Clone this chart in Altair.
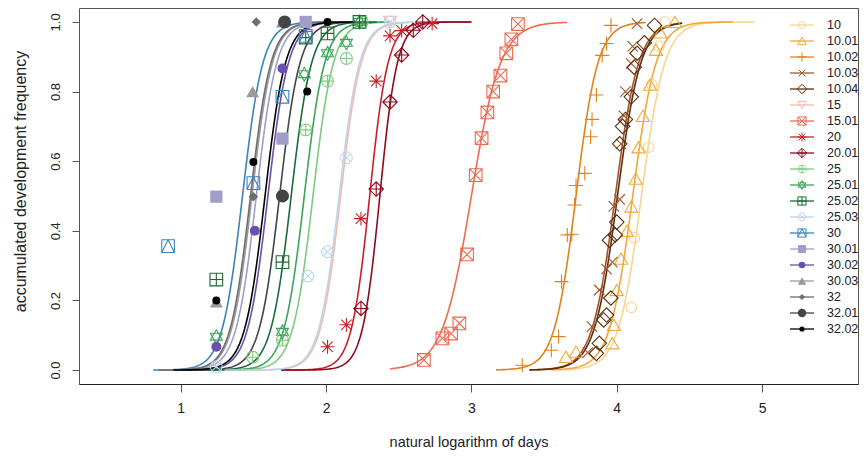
import altair as alt
import numpy as np
import pandas as pd

series = ["10", "10.01", "10.02", "10.03", "10.04", "15", "15.01", "20", "20.01",
          "25", "25.01", "25.02", "25.03", "30", "30.01", "30.02", "30.03",
          "32", "32.01", "32.02"]

# observed points (x = natural log of days, y = accumulated frequency)
x_10 = [4.10, 4.12, 4.22, 4.24, 4.29, 4.33]
y_10 = [0.18, 0.38, 0.64, 0.82, 0.93, 1.00]
x_10_01 = [3.65, 3.72, 3.97, 3.98, 4.00, 4.03, 4.07, 4.10, 4.13, 4.15, 4.18, 4.23, 4.27, 4.30, 4.40]
y_10_01 = [0.038, 0.053, 0.077, 0.13, 0.23, 0.32, 0.40, 0.47, 0.55, 0.64, 0.73, 0.82, 0.92, 0.97, 1.00]
x_10_02 = [3.35, 3.55, 3.60, 3.62, 3.66, 3.69, 3.71, 3.72, 3.78, 3.82, 3.83, 3.86, 3.90, 3.93, 3.96]
y_10_02 = [0.014, 0.057, 0.096, 0.254, 0.388, 0.39, 0.474, 0.53, 0.565, 0.67, 0.72, 0.79, 0.904, 0.938, 0.99]
x_10_03 = [3.80, 3.83, 3.88, 3.93, 3.97, 3.98, 4.02, 4.03, 4.05, 4.06, 4.10, 4.11, 4.14]
y_10_03 = [0.05, 0.125, 0.23, 0.29, 0.31, 0.47, 0.49, 0.65, 0.73, 0.80, 0.88, 0.93, 0.995]
x_10_04 = [3.86, 3.88, 3.91, 3.93, 3.96, 3.95, 3.99, 4.00, 4.02, 4.04, 4.06, 4.10, 4.12, 4.14, 4.19, 4.26]
y_10_04 = [0.048, 0.077, 0.144, 0.158, 0.207, 0.373, 0.388, 0.425, 0.65, 0.70, 0.72, 0.785, 0.87, 0.91, 0.94, 0.99]
x_15 = [2.44]
y_15 = [1.00]
x_15_01 = [2.673, 2.80, 2.86, 2.917, 2.97, 3.03, 3.07, 3.11, 3.15, 3.20, 3.24, 3.275, 3.32]
y_15_01 = [0.029, 0.091, 0.105, 0.134, 0.332, 0.56, 0.666, 0.74, 0.80, 0.846, 0.91, 0.95, 0.994]
x_20 = [2.01, 2.14, 2.24, 2.345, 2.44, 2.52, 2.73]
y_20 = [0.067, 0.13, 0.435, 0.83, 0.96, 0.975, 0.995]
x_20_01 = [2.24, 2.345, 2.44, 2.52, 2.60, 2.665]
y_20_01 = [0.177, 0.52, 0.77, 0.905, 0.976, 1.00]
x_25 = [1.495, 1.70, 1.86, 2.01, 2.14, 2.25]
y_25 = [0.037, 0.086, 0.69, 0.83, 0.895, 1.00]
x_25_01 = [1.245, 1.70, 1.85, 2.01, 2.14, 2.23]
y_25_01 = [0.096, 0.11, 0.85, 0.91, 0.94, 1.00]
x_25_02 = [1.245, 1.70, 1.86, 2.01, 2.23]
y_25_02 = [0.26, 0.31, 0.955, 0.967, 1.00]
x_25_03 = [1.245, 1.875, 2.01, 2.14, 2.44]
y_25_03 = [0.01, 0.27, 0.34, 0.61, 1.00]
x_30 = [0.913, 1.50, 1.70, 1.86]
y_30 = [0.356, 0.537, 0.785, 0.96]
x_30_01 = [1.245, 1.70, 1.86]
y_30_01 = [0.498, 0.665, 1.00]
x_30_02 = [1.245, 1.51, 1.70]
y_30_02 = [0.067, 0.40, 0.866]
x_30_03 = [1.245, 1.495, 1.70]
y_30_03 = [0.196, 0.80, 1.00]
x_32 = [1.50, 1.52]
y_32 = [0.498, 1.00]
x_32_01 = [1.70, 1.715]
y_32_01 = [0.50, 1.00]
x_32_02 = [1.245, 1.50, 1.87, 2.01]
y_32_02 = [0.20, 0.598, 0.80, 1.00]

points_x = [x_10, x_10_01, x_10_02, x_10_03, x_10_04, x_15, x_15_01, x_20, x_20_01,
            x_25, x_25_01, x_25_02, x_25_03, x_30, x_30_01, x_30_02, x_30_03,
            x_32, x_32_01, x_32_02]
points_y = [y_10, y_10_01, y_10_02, y_10_03, y_10_04, y_15, y_15_01, y_20, y_20_01,
            y_25, y_25_01, y_25_02, y_25_03, y_30, y_30_01, y_30_02, y_30_03,
            y_32, y_32_01, y_32_02]

# fitted logistic curves: midpoint, scale, drawn range
curve_mid = [4.17, 4.11, 3.72, 3.99, 4.005, 2.10, 3.00, 2.30, 2.37,
             1.91, 1.85, 1.76, 2.09, 1.425, 1.52, 1.60, 1.49, 1.48, 1.68, 1.58]
curve_scale = [0.08, 0.08, 0.075, 0.08, 0.08, 0.07, 0.10, 0.063, 0.06,
               0.07, 0.07, 0.07, 0.07, 0.07, 0.07, 0.07, 0.07, 0.07, 0.07, 0.07]
curve_from = [3.58, 3.55, 3.17, 3.40, 3.40, 1.30, 2.44, 1.69, 1.69,
              1.20, 1.20, 1.10, 1.30, 0.81, 0.90, 0.95, 0.85, 0.85, 1.00, 0.95]
curve_to = [4.95, 4.80, 4.20, 4.45, 4.45, 2.60, 3.66, 3.00, 3.00,
            2.45, 2.40, 2.35, 2.60, 2.00, 2.10, 2.20, 2.05, 2.05, 2.30, 2.20]

# styles
colors = ["#F7D58C", "#F0A93A", "#E0821C", "#A3552A", "#5C2E0E", "#F8B6A8", "#EE6A50",
          "#C8202A", "#8E0B1C", "#7CCB7C", "#3BA55A", "#1D6A34", "#BBD5EA", "#3A85B8",
          "#A19DCB", "#6A4FB0", "#9A9A9A", "#6E6E6E", "#444444", "#000000"]
P_PLUS = "M-1,0H1M0,-1V1"
P_X = "M-1,-1L1,1M-1,1L1,-1"
P_SQX = "M-1,-1H1V1H-1ZM-1,-1L1,1M-1,1L1,-1"
P_AST = "M-1,0H1M0,-1V1M-0.75,-0.75L0.75,0.75M-0.75,0.75L0.75,-0.75"
P_DPLUS = "M0,-1L1,0L0,1L-1,0ZM-1,0H1M0,-1V1"
P_CPLUS = "M-1,0A1,1,0,1,0,1,0A1,1,0,1,0,-1,0ZM-1,0H1M0,-1V1"
P_STAR = "M0,-1L0.87,0.5L-0.87,0.5ZM0,1L0.87,-0.5L-0.87,-0.5Z"
P_SQPLUS = "M-1,-1H1V1H-1ZM-1,0H1M0,-1V1"
P_CX = "M-1,0A1,1,0,1,0,1,0A1,1,0,1,0,-1,0ZM-0.7,-0.7L0.7,0.7M-0.7,0.7L0.7,-0.7"
P_SQTRI = "M-1,-1H1V1H-1ZM-1,1L0,-1L1,1"
shapes = ["circle", "triangle-up", P_PLUS, P_X, "diamond", "triangle-down", P_SQX, P_AST,
          P_DPLUS, P_CPLUS, P_STAR, P_SQPLUS, P_CX, P_SQTRI, "square", "circle",
          "triangle-up", "diamond", "circle", "circle"]
filled = [False] * 14 + [True] * 6
sizes = [110, 170, 200, 110, 210, 170, 160, 190, 210, 140, 190, 160, 140, 160,
         150, 100, 170, 90, 170, 64]

pt_rows = []
for i, s in enumerate(series):
    for xv, yv in zip(points_x[i], points_y[i]):
        pt_rows.append(dict(series=s, x=xv, y=yv, color=colors[i], shape=shapes[i],
                            filled=filled[i], size=sizes[i], order=i))
pts = pd.DataFrame(pt_rows)

cv_rows = []
for i, s in enumerate(series):
    xs = np.linspace(curve_from[i], curve_to[i], 160)
    ys = 1.0 / (1.0 + np.exp(-(xs - curve_mid[i]) / curve_scale[i]))
    for xv, yv in zip(xs, ys):
        cv_rows.append(dict(series=s, x=float(xv), y=float(yv), color=colors[i]))
cvs = pd.DataFrame(cv_rows)

leg = pd.DataFrame(dict(series=series, color=colors, shape=shapes, filled=filled,
                        size=[v * 0.42 for v in sizes]))

FONT = "Liberation Sans"
X = alt.X("x:Q", scale=alt.Scale(domain=[0.3, 5.66], nice=False, zero=False),
          axis=alt.Axis(values=[1, 2, 3, 4, 5], format="d", title="natural logarithm of days",
                        grid=False, domain=True, domainColor="#222", tickColor="#555",
                        tickSize=8, labelPadding=9, labelFontSize=14, titleFontSize=14.5,
                        labelColor="#222", titleColor="#222", titleFontWeight="normal",
                        titleY=58, titleBaseline="middle", labelFont=FONT, titleFont=FONT))
Y = alt.Y("y:Q", scale=alt.Scale(domain=[-0.04, 1.04], nice=False, zero=False),
          axis=alt.Axis(values=[0, 0.2, 0.4, 0.6, 0.8, 1.0], format=".1f",
                        title="accumulated development frequency", grid=False, domain=False,
                        tickColor="#555", tickSize=7, labelPadding=10, labelAngle=-90,
                        labelAlign="center", labelBaseline="bottom", labelFontSize=13,
                        titleFontSize=16, labelColor="#222", titleColor="#222",
                        titleFontWeight="normal", titleX=-59, titleY=173, titleAngle=-90,
                        titleAlign="center", titleBaseline="middle",
                        labelFont=FONT, titleFont=FONT))

curves = alt.Chart(cvs).mark_line(strokeWidth=1.6).encode(
    x=X, y=Y, detail="series:N", color=alt.Color("color:N", scale=None))
open_pts = alt.Chart(pts[~pts["filled"]]).mark_point(filled=False, strokeWidth=1.1, opacity=1).encode(
    x=X, y=Y, color=alt.Color("color:N", scale=None), shape=alt.Shape("shape:N", scale=None),
    size=alt.Size("size:Q", scale=None))
fill_pts = alt.Chart(pts[pts["filled"]]).mark_point(filled=True, opacity=1).encode(
    x=X, y=Y, color=alt.Color("color:N", scale=None), shape=alt.Shape("shape:N", scale=None),
    size=alt.Size("size:Q", scale=None))
main = alt.layer(curves, open_pts, fill_pts)

LY = alt.Y("series:N", sort=series, axis=None,
           scale=alt.Scale(type="point", range=[17, 321], padding=0))
leg_line = alt.Chart(leg).mark_rule(strokeWidth=1.3).encode(
    x=alt.value(711), x2=alt.value(735), y=LY, color=alt.Color("color:N", scale=None))
leg_open = alt.Chart(leg[~leg["filled"]]).mark_point(filled=False, strokeWidth=1, opacity=1).encode(
    x=alt.value(723), y=LY, color=alt.Color("color:N", scale=None),
    shape=alt.Shape("shape:N", scale=None), size=alt.Size("size:Q", scale=None))
leg_fill = alt.Chart(leg[leg["filled"]]).mark_point(filled=True, opacity=1).encode(
    x=alt.value(723), y=LY, color=alt.Color("color:N", scale=None),
    shape=alt.Shape("shape:N", scale=None), size=alt.Size("size:Q", scale=None))
leg_text = alt.Chart(leg).mark_text(align="left", baseline="middle", fontSize=12.5,
                                    font=FONT, color="#222").encode(
    x=alt.value(748), y=LY, text="series:N")
legend = alt.layer(leg_line, leg_open, leg_fill, leg_text)

chart = alt.layer(main, legend).resolve_scale(y="independent").properties(
    width=779, height=376,
    autosize=alt.AutoSizeParams(type="none"),
    padding={"left": 71, "top": 0, "right": 1, "bottom": 67},
    background="white",
).configure_view(stroke="#555", strokeWidth=1)

chart.save("out.html", embed_options={"renderer": "svg", "actions": False})
